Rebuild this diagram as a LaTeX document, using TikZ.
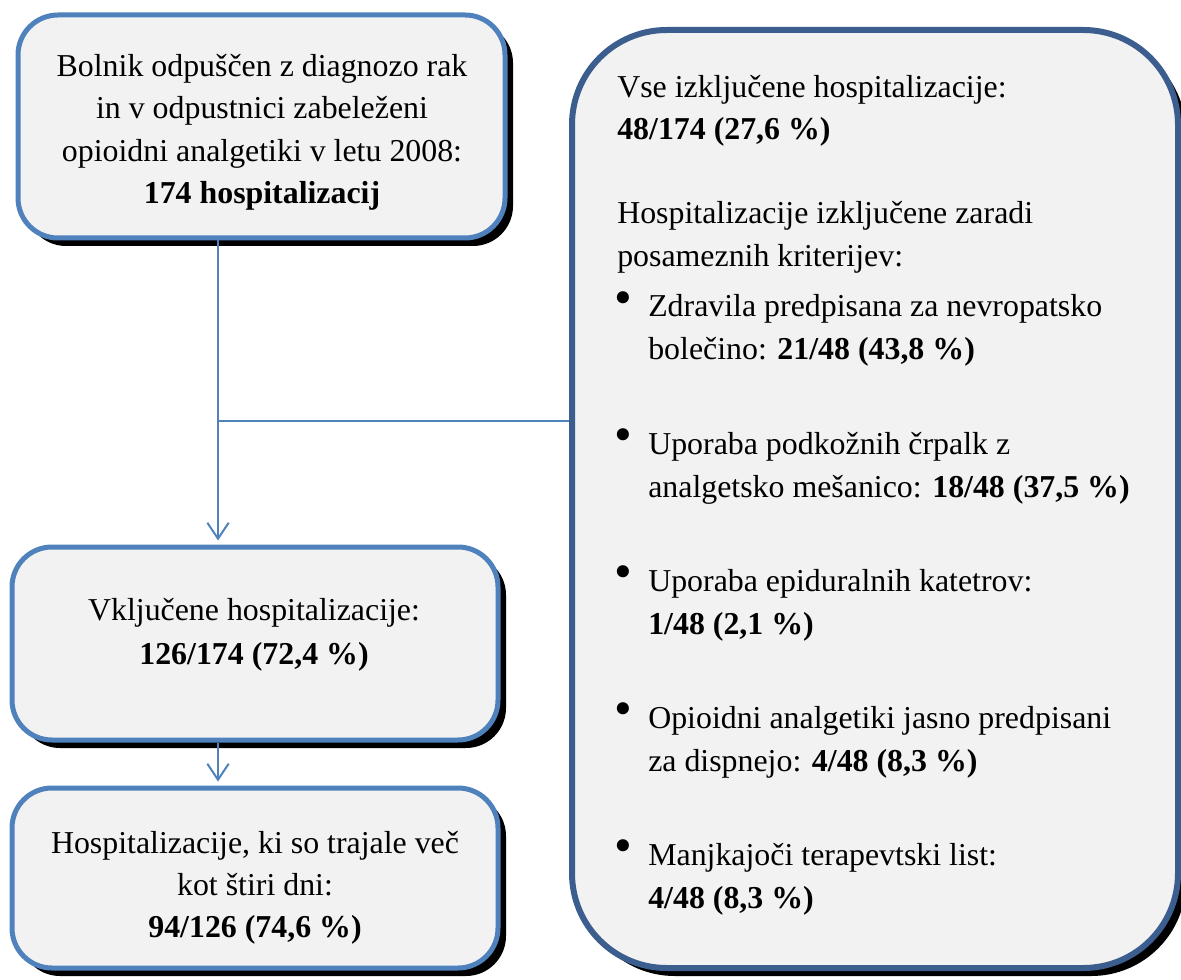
\documentclass[tikz,border=0pt]{standalone}
\usepackage{fontspec}
\setmainfont{Liberation Serif}
\usetikzlibrary{arrows.meta,shadows}
\definecolor{boxblue}{RGB}{79,129,189}
\definecolor{darkblue}{RGB}{59,94,143}
\definecolor{boxfill}{RGB}{242,242,242}

\begin{document}
\begin{tikzpicture}[x=0.75pt, y=-0.75pt, >={Straight Barb[length=12pt,width=16pt]},
    box/.style={draw=boxblue, line width=3.75pt, fill=boxfill, rounded corners=30pt, inner sep=0pt,
        drop shadow={shadow xshift=6pt, shadow yshift=-6pt, fill=black, opacity=1}},
    txt/.style={inner sep=0pt, font=\fontsize{23.9pt}{32pt}\selectfont},
    dot/.style={inner sep=0pt, font=\fontsize{38pt}{40pt}\selectfont},
    link/.style={draw=boxblue, line width=1.5pt}]
    \useasboundingbox (0,0) rectangle (1181,980);

    % Boxes
    \node[box, minimum width=365.25pt, minimum height=167.25pt] (start) at (261.5,126.5) {};
    \node[box, minimum width=364.5pt, minimum height=144.75pt] (incl) at (255,643.5) {};
    \node[box, minimum width=364.5pt, minimum height=135pt] (long) at (255,878) {};
    \node[box, draw=darkblue, line width=4.5pt, rounded corners=71pt,
          minimum width=454.5pt, minimum height=703.5pt] (excl) at (875,499) {};

    % Connectors
    \coordinate (split) at (218,421);
    \draw[link] (start.south -| split) -- (split) -- (split -| excl.west);
    \draw[link, ->, shorten >=3pt] (split) -- (split |- incl.north);
    \draw[link, ->, shorten >=3pt] (split |- incl.south) -- (split |- long.north);

    % Text of the left boxes
    \node[txt, anchor=base] (s1) at (262,77) {Bolnik odpuščen z diagnozo rak};
    \node[txt, anchor=base] (s2) at (262,119) {in v odpustnici zabeleženi};
    \node[txt, anchor=base] (s3) at (262,162) {opioidni analgetiki v letu 2008:};
    \node[txt, anchor=base] (s4) at (262,204) {\textbf{174 hospitalizacij}};

    \node[txt, anchor=base] (i1) at (254,620) {Vključene hospitalizacije:};
    \node[txt, anchor=base] (i2) at (254,664) {\textbf{126/174 (72,4 \%)}};

    \node[txt, anchor=base] (l1) at (255,853) {Hospitalizacije, ki so trajale več};
    \node[txt, anchor=base] (l2) at (255,895) {kot štiri dni:};
    \node[txt, anchor=base] (l3) at (255,937) {\textbf{94/126 (74,6 \%)}};

    % Text of the right box
    \node[txt, anchor=base west] (e1) at (617,98) {Vse izključene hospitalizacije:};
    \node[txt, anchor=base west] (e2) at (617,140) {\textbf{48/174 (27,6 \%)}};
    \node[txt, anchor=base west] (e3) at (617,224) {Hospitalizacije izključene zaradi};
    \node[txt, anchor=base west] (e4) at (617,267) {posameznih kriterijev:};

    \node[dot] (b1) at (623,303) {\textbullet};
    \node[txt, anchor=base west] (k1a) at (648,317) {Zdravila predpisana za nevropatsko};
    \node[txt, anchor=base west] (k1b) at (648,360) {bolečino: \textbf{21/48 (43,8 \%)}};

    \node[dot] (b2) at (623,440) {\textbullet};
    \node[txt, anchor=base west] (k2a) at (648,454) {Uporaba podkožnih črpalk z};
    \node[txt, anchor=base west] (k2b) at (648,497) {analgetsko mešanico: \textbf{18/48 (37,5 \%)}};

    \node[dot] (b3) at (623,577) {\textbullet};
    \node[txt, anchor=base west] (k3a) at (648,591) {Uporaba epiduralnih katetrov:};
    \node[txt, anchor=base west] (k3b) at (648,634) {\textbf{1/48 (2,1 \%)}};

    \node[dot] (b4) at (623,714) {\textbullet};
    \node[txt, anchor=base west] (k4a) at (648,728) {Opioidni analgetiki jasno predpisani};
    \node[txt, anchor=base west] (k4b) at (648,771) {za dispnejo: \textbf{4/48 (8,3 \%)}};

    \node[dot] (b5) at (623,851) {\textbullet};
    \node[txt, anchor=base west] (k5a) at (648,865) {Manjkajoči terapevtski list:};
    \node[txt, anchor=base west] (k5b) at (648,908) {\textbf{4/48 (8,3 \%)}};
\end{tikzpicture}
\end{document}
